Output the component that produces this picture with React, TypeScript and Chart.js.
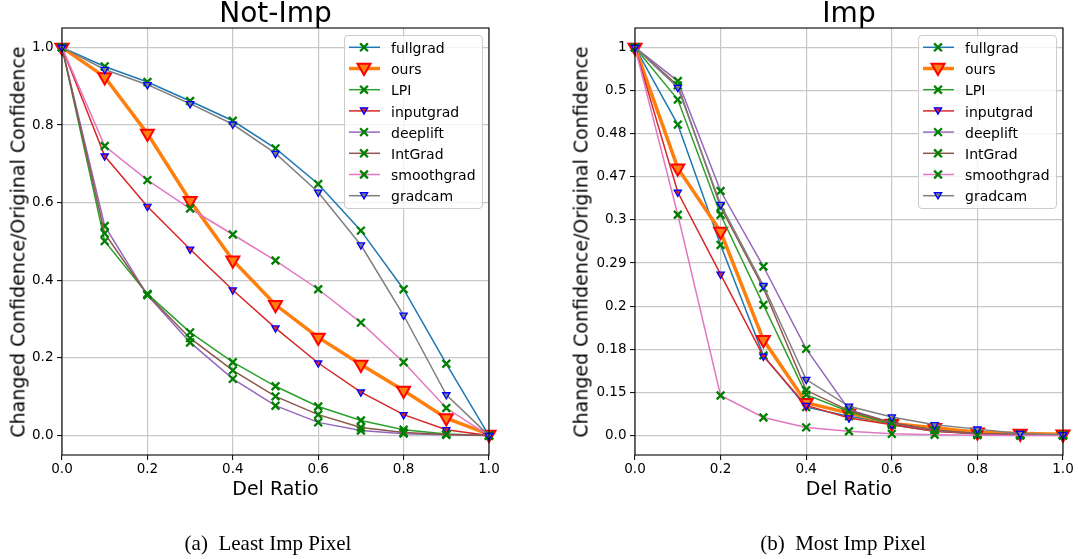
import React, { useEffect, useRef } from "react";
import { Chart, registerables } from "chart.js";

Chart.register(...registerables);

// ---------------- data ----------------
const delRatio = [0, 0.1, 0.2, 0.3, 0.4, 0.5, 0.6, 0.7, 0.8, 0.9, 1.0];
const xTicks = [0, 0.2, 0.4, 0.6, 0.8, 1.0];
const seriesNames = ["fullgrad", "ours", "LPI", "inputgrad", "deeplift", "IntGrad", "smoothgrad", "gradcam"];

// Not-Imp (Least Imp Pixel)
const notImpFullgrad = [1.0, 0.951, 0.911, 0.862, 0.811, 0.740, 0.648, 0.528, 0.377, 0.185, 0.0];
const notImpOurs = [1.0, 0.924, 0.778, 0.605, 0.452, 0.337, 0.253, 0.183, 0.116, 0.045, 0.003];
const notImpLPI = [1.0, 0.501, 0.365, 0.266, 0.189, 0.127, 0.075, 0.039, 0.015, 0.004, 0.0];
const notImpInputgrad = [1.0, 0.720, 0.590, 0.480, 0.375, 0.277, 0.187, 0.112, 0.054, 0.015, 0.0];
const notImpDeeplift = [1.0, 0.540, 0.362, 0.240, 0.146, 0.077, 0.034, 0.013, 0.005, 0.002, 0.0];
const notImpIntGrad = [1.0, 0.521, 0.363, 0.251, 0.168, 0.101, 0.054, 0.021, 0.008, 0.003, 0.0];
const notImpSmoothgrad = [1.0, 0.746, 0.658, 0.585, 0.518, 0.451, 0.377, 0.291, 0.189, 0.071, 0.0];
const notImpGradcam = [1.0, 0.943, 0.904, 0.855, 0.802, 0.727, 0.627, 0.491, 0.310, 0.105, 0.0];
const notImpYTicks = [0, 0.2, 0.4, 0.6, 0.8, 1.0];

// Imp (Most Imp Pixel) — values in tick-position units of the uneven axis below
const impFullgrad = [9, 7.21, 4.42, 1.86, 0.66, 0.45, 0.28, 0.12, 0.05, 0.03, 0.02];
const impOurs = [9, 6.20, 4.73, 2.22, 0.76, 0.52, 0.28, 0.18, 0.08, 0.05, 0.03];
const impLPI = [9, 7.79, 5.12, 3.03, 0.95, 0.56, 0.25, 0.10, 0.04, 0.02, 0.01];
const impInputgrad = [9, 5.64, 3.74, 1.84, 0.70, 0.41, 0.25, 0.10, 0.04, 0.02, 0.01];
const impDeeplift = [9, 8.22, 5.67, 3.92, 2.01, 0.60, 0.30, 0.12, 0.05, 0.02, 0.01];
const impIntGrad = [9, 8.12, 5.30, 3.42, 1.05, 0.58, 0.30, 0.13, 0.05, 0.02, 0.01];
const impSmoothgrad = [9, 5.12, 0.93, 0.42, 0.19, 0.10, 0.04, 0.02, 0.01, 0.0, 0.0];
const impGradcam = [9, 8.07, 5.36, 3.48, 1.30, 0.68, 0.43, 0.25, 0.15, 0.05, 0.02];
const impYTicks = [0, 1, 2, 3, 4, 5, 6, 7, 8, 9];
const impYTickLabels = ["0.0", "0.15", "0.18", "0.2", "0.29", "0.3", "0.47", "0.48", "0.5", "1"];

// ---------------- styles ----------------
const FONT = "'DejaVu Sans', sans-serif";
type Sty = { color: string; width: number; marker: "x" | "v"; r: number; face: string; edge: string; ew: number };
const STYLES: Sty[] = [
  { color: "#1f77b4", width: 1.5, marker: "x", r: 5.5, face: "#008000", edge: "#008000", ew: 2.3 },
  { color: "#ff7f0e", width: 3.5, marker: "v", r: 7.5, face: "#ff7f0e", edge: "#ff0000", ew: 2 },
  { color: "#2ca02c", width: 1.5, marker: "x", r: 5.5, face: "#008000", edge: "#008000", ew: 2.3 },
  { color: "#d62728", width: 1.5, marker: "v", r: 4.2, face: "#d62728", edge: "#0000ff", ew: 1.3 },
  { color: "#9467bd", width: 1.5, marker: "x", r: 5.5, face: "#008000", edge: "#008000", ew: 2.3 },
  { color: "#8c564b", width: 1.5, marker: "x", r: 5.5, face: "#008000", edge: "#008000", ew: 2.3 },
  { color: "#e377c2", width: 1.5, marker: "x", r: 5.5, face: "#008000", edge: "#008000", ew: 2.3 },
  { color: "#7f7f7f", width: 1.5, marker: "v", r: 4.2, face: "#7f7f7f", edge: "#0000ff", ew: 1.3 },
];

const framePlugin = {
  id: "frame",
  afterDraw(chart: any) {
    const { ctx, chartArea: a } = chart;
    ctx.save();
    ctx.strokeStyle = "#000";
    ctx.lineWidth = 1.1;
    ctx.strokeRect(a.left, a.top, a.right - a.left, a.bottom - a.top);
    ctx.restore();
  },
};

type PanelProps = {
  left: number;
  series: number[][];
  yTicks: number[];
  yFormat: (v: number) => string;
  yMin: number;
  yMax: number;
  axisW: number;
  padRight: number;
};

function Panel({ left, series, yTicks, yFormat, yMin, yMax, axisW, padRight }: PanelProps) {
  const ref = useRef<HTMLCanvasElement>(null);
  useEffect(() => {
    const tickFont = { family: FONT, size: 13.5 };
    const grid = { color: "#c8c8c8", lineWidth: 1.2, tickColor: "#000", tickLength: 5, tickWidth: 1 };
    const chart = new Chart(ref.current as HTMLCanvasElement, {
      type: "line",
      data: {
        datasets: series.map((vals, i) => {
          const s = STYLES[i];
          return {
            label: seriesNames[i],
            data: vals.map((v, j) => ({ x: delRatio[j], y: v })),
            borderColor: s.color,
            backgroundColor: s.color,
            borderWidth: s.width,
            pointStyle: s.marker === "x" ? "crossRot" : "triangle",
            rotation: s.marker === "x" ? 0 : 180,
            pointRadius: s.r,
            pointHoverRadius: s.r,
            pointBackgroundColor: s.face,
            pointBorderColor: s.edge,
            pointBorderWidth: s.ew,
            tension: 0,
            clip: false as any,
            order: 7 - i,
          } as any;
        }),
      },
      options: {
        animation: false,
        responsive: false,
        events: [],
        layout: { padding: { top: 28, right: padRight, bottom: 0, left: 0 } },
        plugins: { legend: { display: false }, tooltip: { enabled: false }, title: { display: false } },
        scales: {
          x: {
            type: "linear",
            min: 0,
            max: 1,
            afterBuildTicks: (sc: any) => {
              sc.ticks = xTicks.map((v) => ({ value: v }));
            },
            afterFit: (sc: any) => {
              sc.height = 25;
            },
            ticks: {
              callback: (v: any) => Number(v).toFixed(1),
              font: tickFont,
              color: "#000",
              padding: 1,
              maxRotation: 0,
              autoSkip: false,
            },
            grid,
            border: { display: false },
          },
          y: {
            type: "linear",
            min: yMin,
            max: yMax,
            afterBuildTicks: (sc: any) => {
              sc.ticks = yTicks.map((v) => ({ value: v }));
            },
            afterFit: (sc: any) => {
              sc.width = axisW;
            },
            ticks: {
              callback: (v: any) => yFormat(Number(v)),
              font: tickFont,
              color: "#000",
              padding: 3.5,
              autoSkip: false,
            },
            grid,
            border: { display: false },
          },
        },
      } as any,
      plugins: [framePlugin],
    });
    return () => chart.destroy();
  }, []);
  return (
    <canvas
      ref={ref}
      width={539}
      height={480}
      style={{ position: "absolute", left, top: 0, width: 539, height: 480 }}
    />
  );
}

function Legend({ left, top }: { left: number; top: number }) {
  const W = 139;
  const H = 174;
  const rowY = (i: number) => 12.3 + 21.2 * i;
  return (
    <div
      style={{
        position: "absolute",
        left,
        top,
        width: W,
        height: H,
        boxSizing: "border-box",
        border: "1px solid #cccccc",
        borderRadius: 4,
        background: "rgba(255,255,255,0.8)",
      }}
    >
      <svg width={W} height={H} style={{ position: "absolute", left: -1, top: -1 }}>
        {seriesNames.map((n, i) => {
          const s = STYLES[i];
          const cy = rowY(i);
          const cx = 20;
          let marker;
          if (s.marker === "x") {
            const d = s.r * 0.7071;
            marker = (
              <g stroke={s.edge} strokeWidth={s.ew}>
                <line x1={cx - d} y1={cy - d} x2={cx + d} y2={cy + d} />
                <line x1={cx - d} y1={cy + d} x2={cx + d} y2={cy - d} />
              </g>
            );
          } else {
            const r = s.r;
            const hw = r * 0.866;
            const pts = `${cx - hw},${cy - r / 2 - 1} ${cx + hw},${cy - r / 2 - 1} ${cx},${cy + r - 1}`;
            marker = <polygon points={pts} fill={s.face} stroke={s.edge} strokeWidth={s.ew} strokeLinejoin="miter" />;
          }
          return (
            <g key={n}>
              <line x1={5} y1={cy} x2={36} y2={cy} stroke={s.color} strokeWidth={s.width} />
              {marker}
            </g>
          );
        })}
      </svg>
      {seriesNames.map((n, i) => (
        <div
          key={n}
          style={{
            position: "absolute",
            left: 46,
            top: rowY(i) - 7.4,
            fontFamily: FONT,
            fontSize: 14,
            lineHeight: "14px",
            color: "#000",
            whiteSpace: "nowrap",
          }}
        >
          {n}
        </div>
      ))}
    </div>
  );
}

function Label({ x, y, size, text, rotate, serif }: { x: number; y: number; size: number; text: string; rotate?: boolean; serif?: boolean }) {
  return (
    <div
      style={{
        position: "absolute",
        left: x,
        top: y,
        transform: `translate(-50%, -50%)${rotate ? " rotate(-90deg)" : ""}`,
        fontFamily: serif ? "'Liberation Serif', 'Times New Roman', serif" : FONT,
        fontSize: size,
        lineHeight: `${size}px`,
        whiteSpace: "pre",
        color: "#000",
      }}
    >
      {text}
    </div>
  );
}

export default function App() {
  const notImp = [notImpFullgrad, notImpOurs, notImpLPI, notImpInputgrad, notImpDeeplift, notImpIntGrad, notImpSmoothgrad, notImpGradcam];
  const imp = [impFullgrad, impOurs, impLPI, impInputgrad, impDeeplift, impIntGrad, impSmoothgrad, impGradcam];
  const yTitle = "Changed Confidence/Original Confidence";
  return (
    <div style={{ position: "fixed", left: 0, top: 0, width: 1078, height: 559, background: "#fff", overflow: "hidden" }}>
      <Panel
        left={0}
        series={notImp}
        yTicks={notImpYTicks}
        yFormat={(v) => v.toFixed(1)}
        yMin={-0.05}
        yMax={1.05}
        axisW={62}
        padRight={50}
      />
      <Panel
        left={539}
        series={imp}
        yTicks={impYTicks}
        yFormat={(v) => impYTickLabels[Math.round(v)] ?? ""}
        yMin={-0.45}
        yMax={9.45}
        axisW={96}
        padRight={15}
      />
      <Legend left={344} top={35} />
      <Legend left={918} top={35} />
      <Label x={275.5} y={13} size={28} text="Not-Imp" />
      <Label x={849} y={13} size={28} text="Imp" />
      <Label x={275.5} y={487.5} size={19} text="Del Ratio" />
      <Label x={849} y={487.5} size={19} text="Del Ratio" />
      <Label x={17.8} y={241.5} size={19} text={yTitle} rotate />
      <Label x={581} y={241.5} size={19} text={yTitle} rotate />
      <Label x={268} y={543} size={21} text={"(a)  Least Imp Pixel"} serif />
      <Label x={843} y={543} size={21} text={"(b)  Most Imp Pixel"} serif />
    </div>
  );
}
